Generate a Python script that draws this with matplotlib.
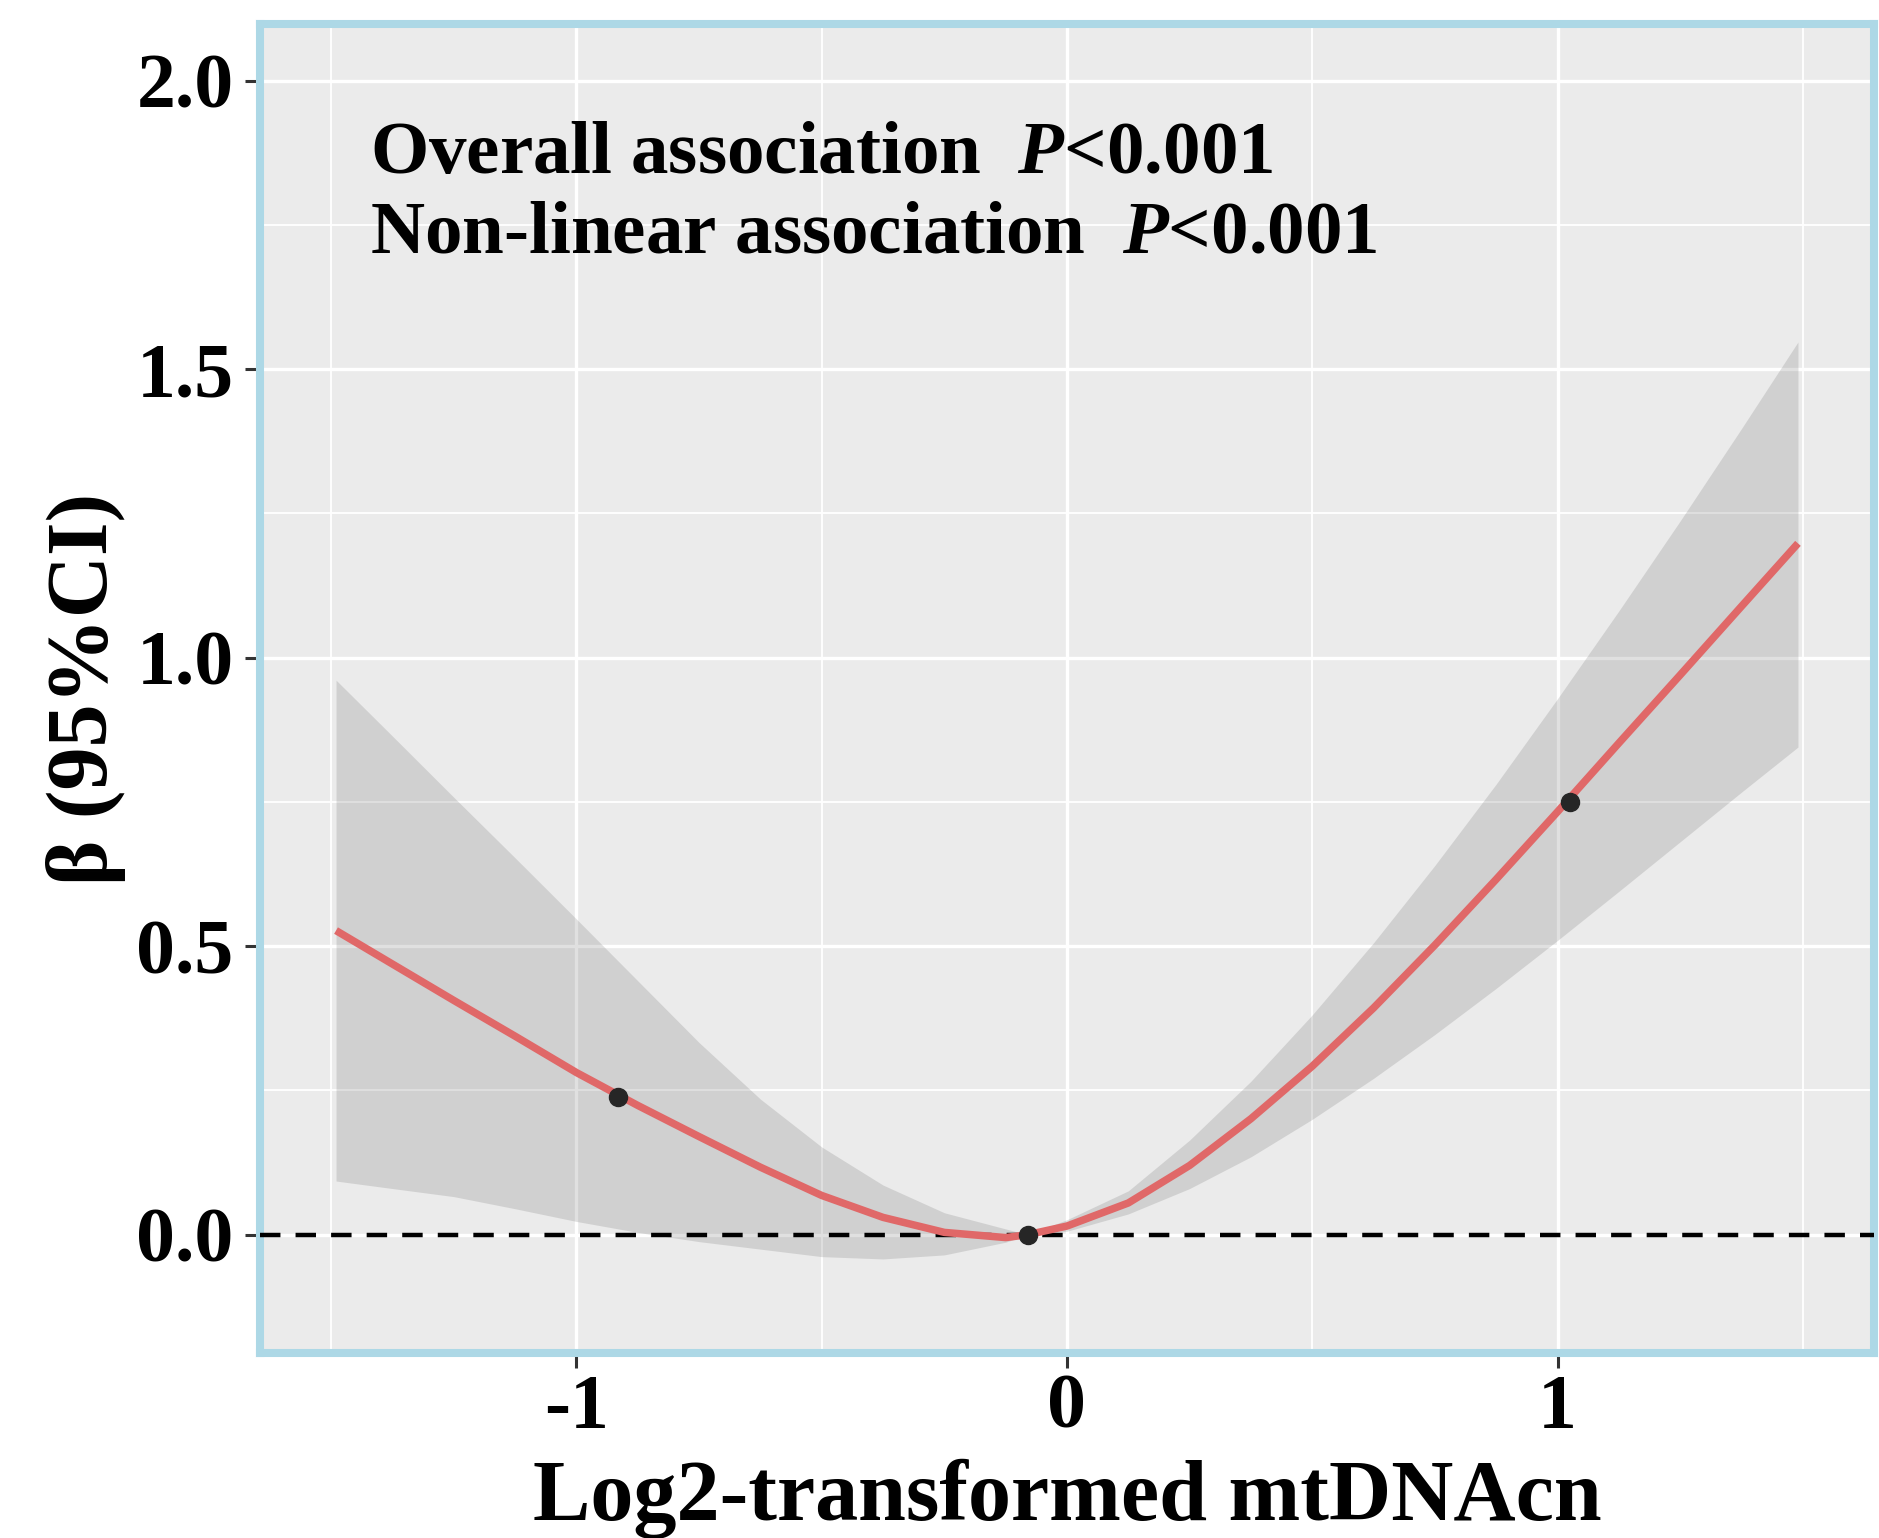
import matplotlib
matplotlib.use("Agg")
import matplotlib.pyplot as plt
import numpy as np

# fitted curve and 95% CI band
x_fit = [-1.49, -1.375, -1.25, -1.125, -1.0, -0.875, -0.75, -0.625, -0.5,
         -0.375, -0.25, -0.125, -0.08, 0.0, 0.125, 0.25, 0.375, 0.5, 0.625,
         0.75, 0.875, 1.0, 1.125, 1.25, 1.375, 1.49]
beta = [0.527, 0.469, 0.406, 0.344, 0.281, 0.224, 0.170, 0.117, 0.068,
        0.030, 0.004, -0.005, 0.0, 0.015, 0.055, 0.120, 0.201, 0.292, 0.393,
        0.502, 0.616, 0.733, 0.852, 0.970, 1.089, 1.198]
ci_upper = [0.961, 0.864, 0.758, 0.653, 0.547, 0.440, 0.333, 0.235, 0.152,
            0.086, 0.038, 0.010, 0.0, 0.026, 0.076, 0.164, 0.266, 0.381, 0.506,
            0.640, 0.781, 0.929, 1.081, 1.237, 1.397, 1.547]
ci_lower = [0.093, 0.080, 0.066, 0.045, 0.023, 0.004, -0.012, -0.025, -0.038,
            -0.042, -0.035, -0.013, 0.0, 0.006, 0.036, 0.080, 0.135, 0.200, 0.271,
            0.347, 0.427, 0.510, 0.595, 0.681, 0.767, 0.845]

# marked points on the curve
x_pts = [-0.916, -0.08, 1.026]
y_pts = [0.239, 0.0, 0.750]

x_ticks = [-1, 0, 1]
x_ticklabels = ["-1", "0", "1"]
y_ticks = [0.0, 0.5, 1.0, 1.5, 2.0]
y_ticklabels = ["0.0", "0.5", "1.0", "1.5", "2.0"]

plt.rcParams["font.family"] = ["Liberation Serif", "DejaVu Serif"]
plt.rcParams["font.weight"] = "bold"
plt.rcParams["mathtext.fontset"] = "custom"
plt.rcParams["mathtext.rm"] = "Liberation Serif:bold"
plt.rcParams["mathtext.it"] = "Liberation Serif:italic:bold"

fig = plt.figure(figsize=(18.79, 15.38), dpi=100)
ax = fig.add_axes([260 / 1879, 185 / 1538, 1614 / 1879, 1329 / 1538])
ax.set_facecolor("#EBEBEB")

ax.set_xlim(-1.645, 1.645)
ax.set_ylim(-0.205, 2.098)

# grid
ax.set_xticks(x_ticks)
ax.set_xticklabels(x_ticklabels)
ax.set_yticks(y_ticks)
ax.set_yticklabels(y_ticklabels)
ax.set_xticks([-1.5, -0.5, 0.5, 1.5], minor=True)
ax.set_yticks([0.25, 0.75, 1.25, 1.75], minor=True)
ax.grid(which="major", color="white", linewidth=2.4)
ax.grid(which="minor", color="white", linewidth=1.3)
ax.set_axisbelow(True)

ax.fill_between(x_fit, ci_lower, ci_upper, color="#666666", alpha=0.2,
                linewidth=0, zorder=2)
ax.axhline(0, color="black", linewidth=3.2, dashes=(4.6, 3.4), zorder=3)
ax.plot(x_fit, beta, color="#E06868", linewidth=5.4, zorder=4,
        solid_capstyle="butt", solid_joinstyle="round")
ax.plot(x_pts, y_pts, "o", color="#262626", markersize=13, zorder=5)

ax.text(-1.42, 1.839, r"Overall association  $P$<0.001", fontsize=54,
        fontweight="bold", va="baseline", ha="left")
ax.text(-1.42, 1.702, r"Non-linear association  $P$<0.001", fontsize=54,
        fontweight="bold", va="baseline", ha="left")

for s in ax.spines.values():
    s.set_color("#ADD8E6")
    s.set_linewidth(5.8)

ax.tick_params(which="major", length=11, width=2.2, color="#333333",
               labelsize=56, pad=8, labelcolor="black")
ax.tick_params(axis="x", which="major", pad=4)
ax.tick_params(which="minor", length=0)

ax.set_xlabel("Log2-transformed mtDNAcn", fontsize=62, fontweight="bold")
ax.xaxis.set_label_coords(0.5, (1353 - 1520) / 1329)
ax.xaxis.label.set_va("baseline")
ax.set_ylabel("β (95%CI)", fontsize=62, fontweight="bold")
ax.yaxis.set_label_coords((126 - 260) / 1614, 0.5)

fig.savefig("out.png", dpi=100)
